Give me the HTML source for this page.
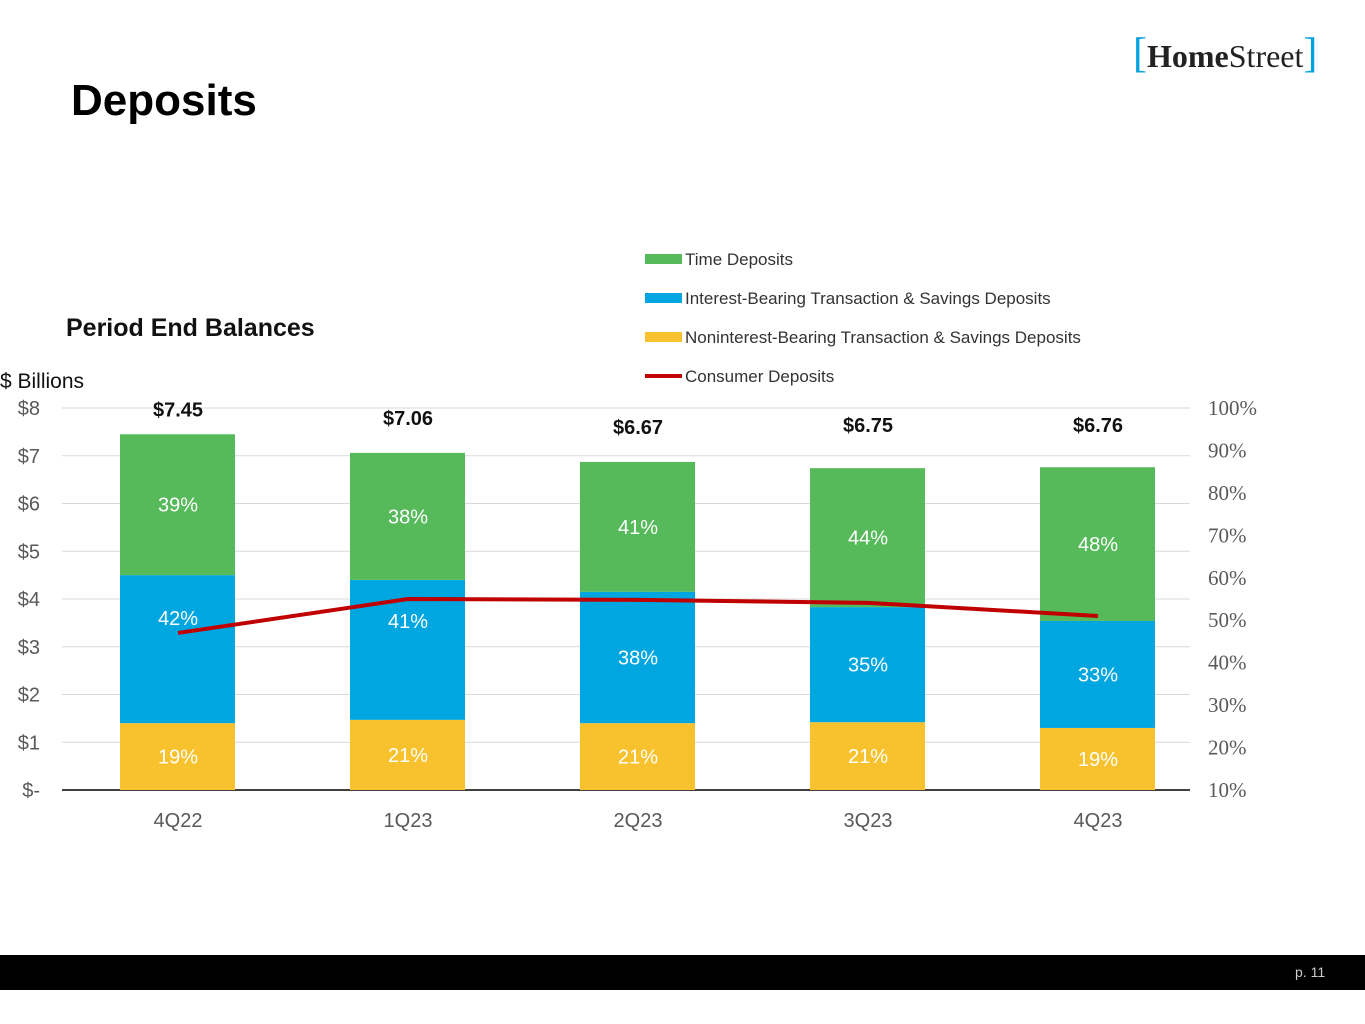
<!DOCTYPE html>
<html><head><meta charset="utf-8"><style>
body{margin:0;width:1365px;height:1024px;background:#fff;font-family:"Liberation Sans",sans-serif;position:relative;overflow:hidden}
.t{position:absolute}
</style></head><body>
<div class="t" style="left:71px;top:76px;font-size:44px;font-weight:bold;color:#000">Deposits</div>
<div class="t" style="left:1133px;top:30px;font-family:'Liberation Serif',serif;font-size:32px;color:#222"><span style="color:#00a3e0;font-size:42px">[</span><b>Home</b>Street<span style="color:#00a3e0;font-size:42px">]</span></div>
<div class="t" style="left:66px;top:314px;font-size:25px;font-weight:bold;color:#111">Period End Balances</div>
<div class="t" style="left:0;top:370px;font-size:21px;color:#111">$ Billions</div>
<div class="t" style="left:0;top:955px;width:1365px;height:35px;background:#000"></div>
<div class="t" style="left:1295px;top:964px;font-size:14px;color:#ccc">p. 11</div>
<svg id="c" width="1365" height="1024" style="position:absolute;left:0;top:0"></svg>
<script>
const categories=["4Q22","1Q23","2Q23","3Q23","4Q23"];
const nonInterest=[1.40,1.47,1.40,1.42,1.30];
const interest=[3.10,2.93,2.75,2.41,2.24];
const timeDep=[2.95,2.66,2.72,2.91,3.22];
const consumerPct=[47.0,55.0,54.8,54.1,51.0];
const totalLabels=["$7.45","$7.06","$6.67","$6.75","$6.76"];
const nonPctLabels=["19%","21%","21%","21%","19%"];
const intPctLabels=["42%","41%","38%","35%","33%"];
const timePctLabels=["39%","38%","41%","44%","48%"];
const leftTicks=[0,1,2,3,4,5,6,7,8];
const leftTickLabels=["$-","$1","$2","$3","$4","$5","$6","$7","$8"];
const rightTicks=[10,20,30,40,50,60,70,80,90,100];
const totalLabelDy=[-18,-28,-28,-36,-35];
const intLabelDy=[-31,-29,0,0,0];
const NS="http://www.w3.org/2000/svg",svg=document.getElementById('c');
const yL=v=>790-v*47.75, yR=p=>790-(p-10)*382/90, xC=i=>178+i*230;
function mk(t,a,txt){const e=document.createElementNS(NS,t);for(const k in a)e.setAttribute(k,a[k]);if(txt!=null)e.textContent=txt;svg.appendChild(e);return e;}
leftTicks.forEach((v,i)=>{
 const l=mk('line',{x1:62,x2:1190,y1:yL(v),y2:yL(v),stroke:v?'#d9d9d9':'#000','stroke-width':v?1:1.5});
 
 
 const t=mk('text',{x:40,y:yL(v)+7,'text-anchor':'end','font-size':20,fill:'#595959'},leftTickLabels[i]);
 
 
});
rightTicks.forEach(p=>{
 const t=mk('text',{x:1208,y:yR(p)+7,'font-size':21,fill:'#595959','font-family':'Liberation Serif,serif'},p+'%');
 
 
});
categories.forEach((c,i)=>{
 const x=xC(i)-58,w=115;
 const segs=[[0,nonInterest[i],'#f8c22e',nonPctLabels[i],'bar-noninterest',0],[nonInterest[i],nonInterest[i]+interest[i],'#00a6e0',intPctLabels[i],'bar-interest',intLabelDy[i]],[nonInterest[i]+interest[i],nonInterest[i]+interest[i]+timeDep[i],'#56b95a',timePctLabels[i],'bar-time',0]];
 segs.forEach(s=>{
  const r=mk('rect',{x:x,y:yL(s[1]),width:w,height:yL(s[0])-yL(s[1]),fill:s[2]});
  
  
  const t=mk('text',{x:xC(i),y:(yL(s[0])+yL(s[1]))/2+7+s[5],'text-anchor':'middle','font-size':20,fill:'#fff'},s[3]);
  
  
 });
 const tot=nonInterest[i]+interest[i]+timeDep[i];
 const tl=mk('text',{x:xC(i),y:yL(tot)+totalLabelDy[i],'text-anchor':'middle','font-size':20,'font-weight':'bold',fill:'#111'},totalLabels[i]);
 
 
 const xl=mk('text',{x:xC(i),y:827,'text-anchor':'middle','font-size':20,fill:'#595959'},c);
 
 
});
const ln=mk('polyline',{points:consumerPct.map((p,i)=>xC(i)+','+yR(p)).join(' '),fill:'none',stroke:'#c00000','stroke-width':4});


const leg=[['Time Deposits','#56b95a'],['Interest-Bearing Transaction & Savings Deposits','#00a6e0'],['Noninterest-Bearing Transaction & Savings Deposits','#f8c22e'],['Consumer Deposits','#c00000']];
leg.forEach((l,i)=>{
 const y=259+i*39;
 if(i<3){const r=mk('rect',{x:645,y:y-5,width:37,height:10,fill:l[1]});}
 else{const r=mk('line',{x1:645,x2:682,y1:y,y2:y,stroke:l[1],'stroke-width':4});}
 const t=mk('text',{x:685,y:y+6,'font-size':17,fill:'#333'},l[0]);
 
 
});
</script>
</body></html>
